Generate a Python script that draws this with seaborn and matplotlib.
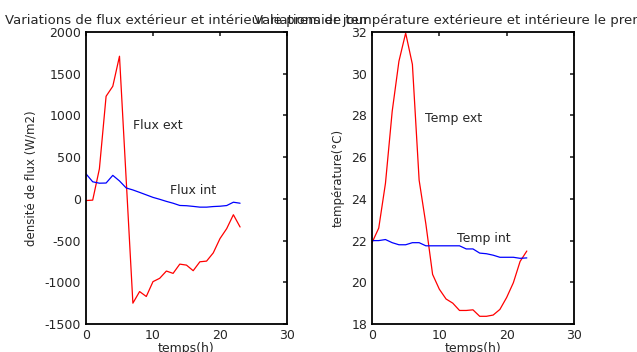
import numpy as np
import pandas as pd
import seaborn as sns
import matplotlib.pyplot as plt

# Flux et températures sur le premier jour
heures = list(range(24))

flux_ext = [-20, -15, 360, 1230, 1350, 1710, 230, -1250, -1111, -1170, -992, -952,
            -865, -893, -782, -794, -861, -754, -746, -647, -476, -357, -190, -337]
flux_int = [300, 205, 188, 190, 282, 215, 131, 107, 78, 48, 18, -5,
            -30, -52, -79, -82, -90, -99, -99, -92, -88, -80, -40, -52]

temp_ext = [21.9, 22.6, 24.75, 28.2, 30.6, 31.95, 30.45, 24.9, 22.8, 20.38, 19.67, 19.2,
            19.0, 18.65, 18.65, 18.68, 18.37, 18.37, 18.43, 18.7, 19.27, 19.98, 21.0, 21.5]
temp_int = [22.0, 22.0, 22.05, 21.9, 21.8, 21.8, 21.9, 21.9, 21.75, 21.75, 21.75, 21.75,
            21.75, 21.75, 21.6, 21.6, 21.4, 21.37, 21.3, 21.2, 21.2, 21.2, 21.15, 21.17]

df = pd.DataFrame({'h': heures, 'flux_ext': flux_ext, 'flux_int': flux_int,
                   'temp_ext': temp_ext, 'temp_int': temp_int})

sns.set_style("white")
plt.rcParams['font.family'] = ['DejaVu Sans']
plt.rcParams['font.size'] = 9
plt.rcParams['axes.unicode_minus'] = False

fig = plt.figure(figsize=(6.37, 3.52), dpi=100)
ax1 = fig.add_axes([0.135, 0.0795, 0.3155, 0.8295])
ax2 = fig.add_axes([0.584, 0.0795, 0.317, 0.8295])

sns.lineplot(data=df, x='h', y='flux_ext', color='red', lw=0.9, ax=ax1)
sns.lineplot(data=df, x='h', y='flux_int', color='blue', lw=0.9, ax=ax1)
ax1.text(7.0, 880, 'Flux ext', va='center')
ax1.text(12.6, 105, 'Flux int', va='center')
ax1.set_xlim(0, 30)
ax1.set_ylim(-1500, 2000)
ax1.set_yticks(np.arange(-1500, 2001, 500))
ax1.set_title('Variations de flux extérieur et intérieur le premier jour', fontsize=9.5, pad=6)
ax1.set_ylabel('densité de flux (W/m2)', fontsize=8.5, labelpad=5)
ax1.set_xlabel('temps(h)', labelpad=0)

sns.lineplot(data=df, x='h', y='temp_ext', color='red', lw=0.9, ax=ax2)
sns.lineplot(data=df, x='h', y='temp_int', color='blue', lw=0.9, ax=ax2)
ax2.text(7.9, 27.85, 'Temp ext', va='center')
ax2.text(12.7, 22.1, 'Temp int', va='center')
ax2.set_xlim(0, 30)
ax2.set_ylim(18, 32)
ax2.set_yticks(np.arange(18, 33, 2))
ax2.set_title('Variations de température extérieure et intérieure le premier jour', fontsize=9.5, pad=6)
ax2.set_ylabel('température(°C)', fontsize=8.5, labelpad=5)
ax2.set_xlabel('temps(h)', labelpad=0)

for ax in (ax1, ax2):
    ax.set_xticks([0, 10, 20, 30])
    ax.tick_params(direction='in', length=3, width=1.2, top=True, right=True,
                   labelsize=9, pad=3.5)
    for s in ax.spines.values():
        s.set_visible(True)
        s.set_color('black')
        s.set_linewidth(1.3)

fig.savefig('out.png', dpi=100)
